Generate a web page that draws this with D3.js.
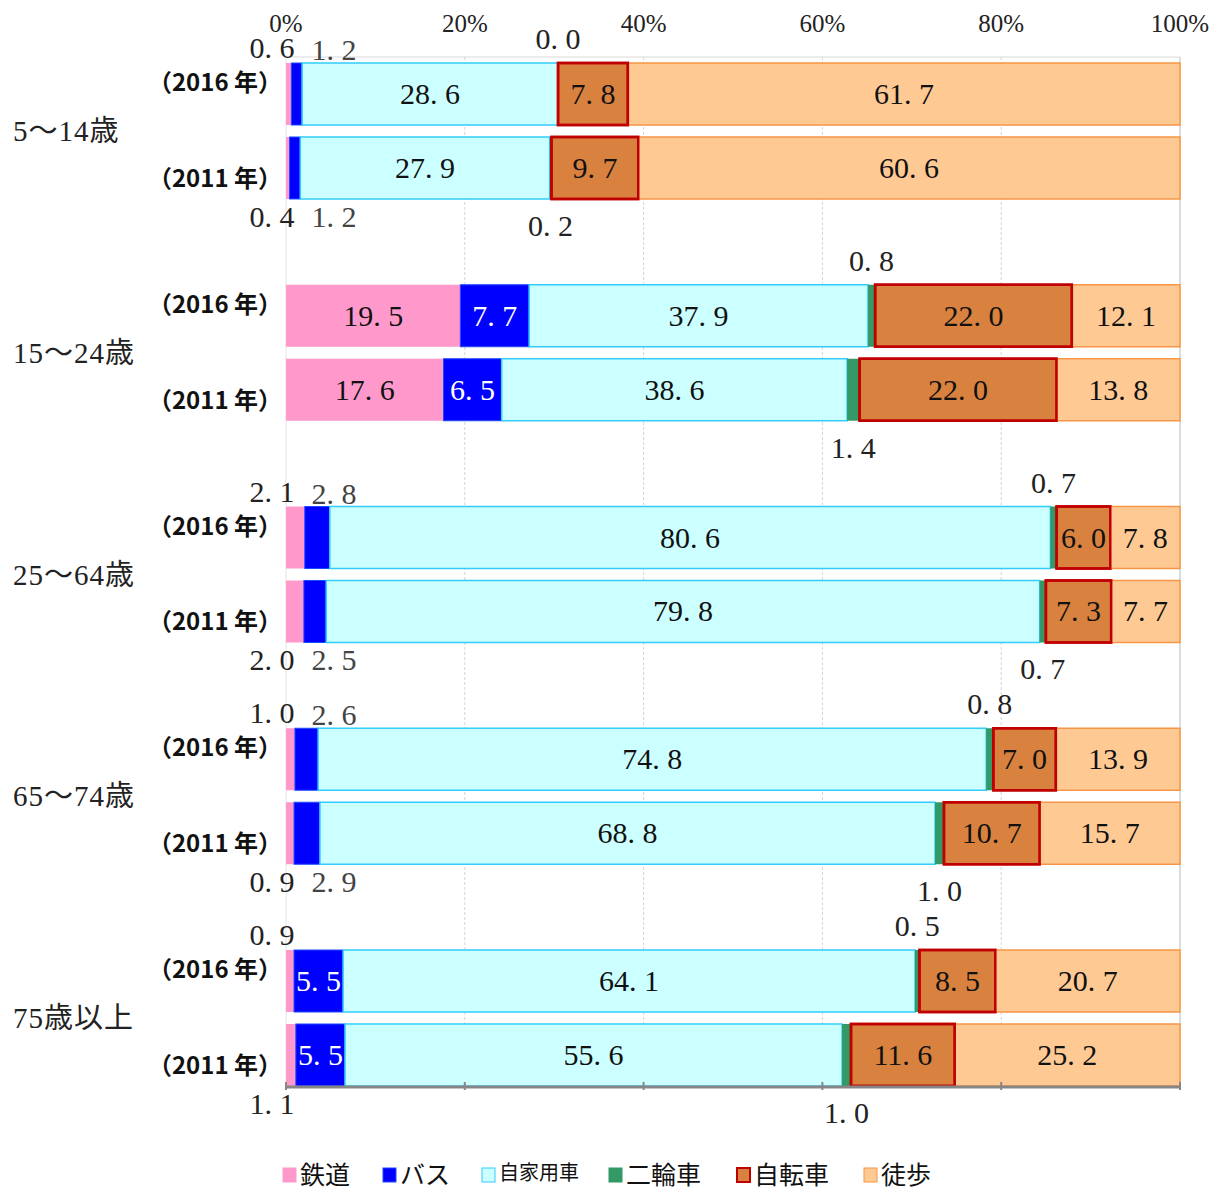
<!DOCTYPE html>
<html><head><meta charset="utf-8">
<script src="https://cdn.jsdelivr.net/npm/d3@7/dist/d3.min.js"></script>
<style>body{margin:0;background:#fff}svg{display:block}</style>
</head><body>
<svg id="c" width="1221" height="1193"></svg>
<script>
const groups = ["5～14歳","15～24歳","25～64歳","65～74歳","75歳以上"];
const years = ["2016","2011"];
const modes = ["鉄道","バス","自家用車","二輪車","自転車","徒歩"];
const rail  = [[0.6,0.4],[19.5,17.6],[2.1,2.0],[1.0,0.9],[0.9,1.1]];
const bus   = [[1.2,1.2],[7.7,6.5],[2.8,2.5],[2.6,2.9],[5.5,5.5]];
const car   = [[28.6,27.9],[37.9,38.6],[80.6,79.8],[74.8,68.8],[64.1,55.6]];
const moto  = [[0.0,0.2],[0.8,1.4],[0.7,0.7],[0.8,1.0],[0.5,1.0]];
const bike  = [[7.8,9.7],[22.0,22.0],[6.0,7.3],[7.0,10.7],[8.5,11.6]];
const walk  = [[61.7,60.6],[12.1,13.8],[7.8,7.7],[13.9,15.7],[20.7,25.2]];
const xTicks = [0,20,40,60,80,100];
const series = [rail,bus,car,moto,bike,walk];

const fills   = ["#FF99CC","#0000FF","#CCFFFF","#339966","#D9823F","#FFC994"];
const strokes = ["#FF99CC","#1E4BFF","#33CCFF","#339966","#C00000","#F79646"];
const sw      = [0,1,1.5,0,2.5,1.5];

const svg = d3.select("#c");
const x = d3.scaleLinear().domain([0,100]).range([286,1180]);
const y0 = d3.scaleBand().domain(groups).range([63,1086]).paddingInner(0.3867).paddingOuter(0);
const y1 = d3.scaleBand().domain(years).range([0,y0.bandwidth()]).paddingInner(0.162);
const NUM = "'Liberation Serif','DejaVu Serif','Noto Sans CJK JP',serif";
const fmt = v => d3.format(".1f")(v).replace(".", ". ");

// frame & gridlines
const plotTop = 57, plotBottom = 1087;
svg.append("line").attr("x1",x(0)).attr("x2",x(100)).attr("y1",plotTop).attr("y2",plotTop).attr("stroke","#d9d9d9").attr("stroke-width",1);
svg.append("line").attr("x1",x(100)).attr("x2",x(100)).attr("y1",plotTop).attr("y2",plotBottom).attr("stroke","#d0d0d0").attr("stroke-width",1.5);
svg.append("line").attr("x1",x(0)).attr("x2",x(0)).attr("y1",plotTop).attr("y2",plotBottom).attr("stroke","#e3e3e3").attr("stroke-width",1);
svg.selectAll(".grid").data(xTicks.filter(t=>t>0&&t<100)).enter().append("line")
  .attr("x1",d=>x(d)).attr("x2",d=>x(d)).attr("y1",plotTop).attr("y2",plotBottom)
  .attr("stroke","#d4d4d4").attr("stroke-width",1).attr("stroke-dasharray","3,2");

// top labels
svg.selectAll(".tl").data(xTicks).enter().append("text")
  .attr("x",d=>x(d)).attr("y",32).attr("text-anchor","middle")
  .attr("font-family",NUM).attr("font-size",25).attr("fill","#222")
  .text(d=>d+"%");

// bars
const rows = [];
groups.forEach((g,gi)=>{
  years.forEach((yr,yi)=>{
    const vals = series.map(s=>s[gi][yi]);
    const tot = d3.sum(vals);
    let acc = 0;
    const segs = vals.map((v,mi)=>{ const s={g,yr,mi,v,x0:acc/tot*100,x1:(acc+v)/tot*100}; acc+=v; return s;});
    rows.push({g,yr,gi,yi,segs});
  });
});
const rowG = svg.selectAll(".row").data(rows).enter().append("g")
  .attr("transform",d=>`translate(0,${y0(d.g)+y1(d.yr)})`);
const bh = y1.bandwidth();
rowG.selectAll("rect").data(d=>d.segs.filter(s=>s.v>0)).enter().append("rect")
  .attr("x",s=>x(s.x0)).attr("width",s=>x(s.x1)-x(s.x0))
  .attr("y",0).attr("height",bh)
  .attr("fill",s=>fills[s.mi]).attr("stroke",s=>sw[s.mi]?strokes[s.mi]:"none")
  .attr("stroke-width",s=>sw[s.mi]);
// re-draw bike border on top so thick red border is visible
rowG.selectAll("rect.bk").data(d=>d.segs.filter(s=>s.mi===4)).enter().append("rect")
  .attr("x",s=>x(s.x0)).attr("width",s=>x(s.x1)-x(s.x0)).attr("y",0).attr("height",bh)
  .attr("fill","none").attr("stroke",strokes[4]).attr("stroke-width",2.5);

// labels
rowG.each(function(d){
  const g = d3.select(this);
  d.segs.forEach(s=>{
    const inside = (s.mi!==3) && s.v>=5;
    let tx, ty, col="#111";
    if(inside){
      tx = (x(s.x0)+x(s.x1))/2; ty = bh/2+10;
      if(s.mi===1) col="#fff";
    } else {
      const above = d.yr==="2016";
      if(s.mi===0){ tx = x(0)-14; ty = above? -5 : bh+28; col="#222"; }
      else if(s.mi===1){ tx = x(0)+48; ty = above? -3 : bh+28; col="#444"; }
      else if(s.mi===3){ tx = (x(s.x0)+x(s.x1))/2; ty = above? -14 : bh+37; col="#222"; }
      else return;
    }
    g.append("text").attr("x",tx).attr("y",ty).attr("text-anchor","middle")
      .attr("font-family",NUM).attr("font-size",30).attr("fill",col)
      .text(fmt(s.v));
  });
});

// year labels
rowG.append("text").attr("x",282).attr("y",d=>d.yr==="2016"? bh/2-3 : bh/2+19)
  .attr("text-anchor","end").attr("font-family","'Noto Sans CJK JP',sans-serif")
  .attr("font-weight","bold").attr("font-size",24).attr("fill","#111")
  .text(d=>`（${d.yr} 年）`);

// group labels
svg.selectAll(".gl").data(groups).enter().append("text")
  .attr("x",13).attr("y",g=>y0(g)+y0.bandwidth()/2+10)
  .attr("font-family","'Liberation Serif','Noto Sans CJK JP',serif").attr("font-size",29).attr("fill","#222")
  .attr("letter-spacing",1)
  .text(g=>g);

// bottom axis
svg.append("line").attr("x1",x(0)).attr("x2",x(100)).attr("y1",plotBottom).attr("y2",plotBottom)
  .attr("stroke","#868686").attr("stroke-width",3);
svg.selectAll(".bt").data(xTicks).enter().append("line")
  .attr("x1",d=>x(d)).attr("x2",d=>x(d)).attr("y1",plotBottom-5).attr("y2",plotBottom+3)
  .attr("stroke","#868686").attr("stroke-width",2);

// legend
const lx = [283,383,482,609,737,864];
const lg = svg.selectAll(".lg").data(modes).enter().append("g")
  .attr("transform",(d,i)=>`translate(${lx[i]},1168)`);
lg.append("rect").attr("x",0).attr("y",0).attr("width",13).attr("height",14)
  .attr("fill",(d,i)=>fills[i]).attr("stroke",(d,i)=>strokes[i]).attr("stroke-width",(d,i)=>i===4?2:1);
lg.append("text").attr("x",17).attr("y",(d,i)=>i===2?12:16)
  .attr("font-family","'Noto Sans CJK JP',sans-serif").attr("font-size",(d,i)=>i===2?20:25).attr("fill","#111")
  .text(d=>d);
</script>
</body></html>
